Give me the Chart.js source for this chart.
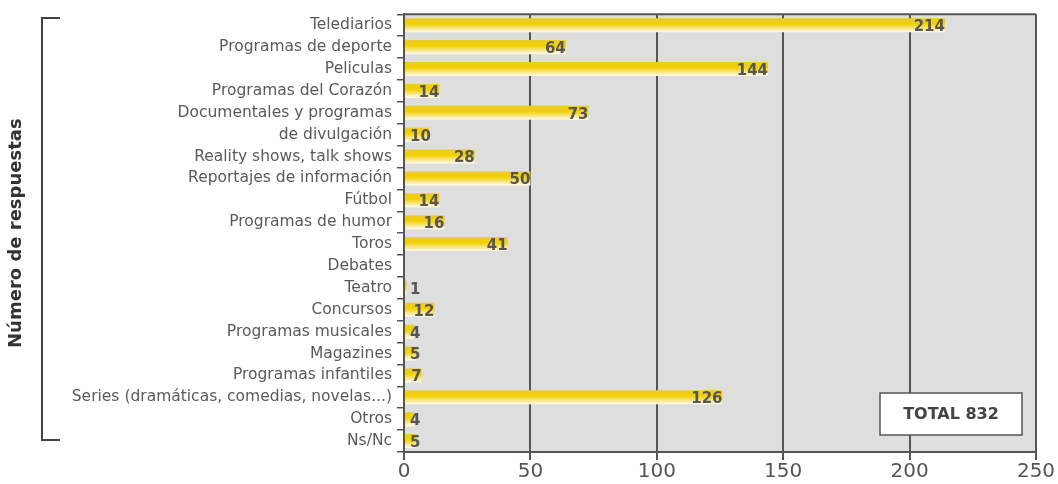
<!DOCTYPE html>
<html>
<head>
<meta charset="utf-8">
<script src="https://cdn.jsdelivr.net/npm/chart.js@4.4.1/dist/chart.umd.min.js"></script>
<style>
  html, body { margin: 0; padding: 0; background: #fff; }
  #wrap { width: 1058px; height: 484px; }
</style>
</head>
<body>
<div id="wrap"><canvas id="tvChart"></canvas></div>
<script>
// ==== Data ====
const categories = [
  "Telediarios", "Programas de deporte", "Peliculas", "Programas del Corazón",
  "Documentales y programas", "de divulgación", "Reality shows, talk shows",
  "Reportajes de información", "Fútbol", "Programas de humor", "Toros",
  "Debates", "Teatro", "Concursos", "Programas musicales", "Magazines",
  "Programas infantiles", "Series (dramáticas, comedias, novelas...)", "Otros", "Ns/Nc"
];
const responses = [214, 64, 144, 14, 73, 10, 28, 50, 14, 16, 41, 0, 1, 12, 4, 5, 7, 126, 4, 5];
const axisTitle = "Número de respuestas";
const totalText = "TOTAL 832";
const xTicks = [0, 50, 100, 150, 200, 250];

const FONT = "'DejaVu Sans', sans-serif";

// yellow bar fill, fading to white at the bottom edge
function barFill(c) {
  const chart = c.chart;
  if (!chart.chartArea || !chart.scales.y) return "#f0cc00";
  const yScale = chart.scales.y;
  const y = yScale.getPixelForValue(c.dataIndex);
  const h = yScale.height / categories.length * 0.64;
  const g = chart.ctx.createLinearGradient(0, y - h / 2, 0, y + h / 2);
  g.addColorStop(0, "#eccb2a");
  g.addColorStop(0.4, "#f2d000");
  g.addColorStop(0.72, "#f7e68a");
  g.addColorStop(1, "#fffcf0");
  return g;
}

// ==== Plugins ====
const decor = {
  id: "decor",
  beforeDraw(chart) {
    const { ctx, chartArea: a } = chart;
    ctx.save();
    ctx.fillStyle = "#dedede";
    ctx.fillRect(a.left, a.top, a.right - a.left, a.bottom - a.top);
    ctx.restore();
  },
  afterDatasetsDraw(chart) {
    const { ctx, chartArea: a } = chart;
    const meta = chart.getDatasetMeta(0);
    ctx.save();
    // value labels
    ctx.font = "bold 15px " + FONT;
    ctx.fillStyle = "#555";
    ctx.textAlign = "right";
    ctx.textBaseline = "middle";
    meta.data.forEach((bar, i) => {
      const v = responses[i];
      if (!v) return;
      const t = String(v);
      const w = ctx.measureText(t).width;
      const x = Math.max(bar.x, a.left + 6 + w);
      ctx.fillText(t, x, bar.y + 2);
    });
    // plot frame (top edge)
    ctx.strokeStyle = "#555";
    ctx.lineWidth = 2;
    ctx.beginPath();
    ctx.moveTo(a.left, a.top);
    ctx.lineTo(a.right, a.top);
    ctx.stroke();
    // bracket next to axis title
    ctx.strokeStyle = "#444";
    ctx.lineWidth = 2;
    ctx.beginPath();
    ctx.moveTo(60, 18);
    ctx.lineTo(42, 18);
    ctx.lineTo(42, 440);
    ctx.lineTo(60, 440);
    ctx.stroke();
    // total box
    const bx = 880, by = 393, bw = 142, bh = 42;
    ctx.fillStyle = "#fff";
    ctx.fillRect(bx, by, bw, bh);
    ctx.strokeStyle = "#555";
    ctx.lineWidth = 1.5;
    ctx.strokeRect(bx, by, bw, bh);
    ctx.fillStyle = "#444";
    ctx.font = "bold 16px " + FONT;
    ctx.textAlign = "center";
    ctx.fillText(totalText, bx + bw / 2, by + bh / 2 + 1);
    ctx.restore();
  }
};

// ==== Chart ====
const ctx = document.getElementById("tvChart").getContext("2d");
const chart = new Chart(ctx, {
  type: "bar",
  data: {
    labels: categories,
    datasets: [{
      data: responses,
      backgroundColor: barFill,
      borderWidth: 0,
      categoryPercentage: 1,
      barPercentage: 0.64
    }]
  },
  options: {
    indexAxis: "y",
    responsive: true,
    maintainAspectRatio: false,
    animation: false,
    layout: { padding: { top: 13, right: 22, left: 0, bottom: 0 } },
    plugins: { legend: { display: false }, tooltip: { enabled: false } },
    scales: {
      x: {
        min: 0,
        max: 250,
        afterBuildTicks: (s) => { s.ticks = xTicks.map(v => ({ value: v })); },
        afterFit: (s) => { s.height = 32; },
        grid: { color: "#555", lineWidth: 2, tickLength: 8 },
        border: { display: true, color: "#555", width: 2 },
        ticks: { color: "#555", font: { family: FONT, size: 20 }, padding: 0 }
      },
      y: {
        afterFit: (s) => { s.width = 404; },
        grid: { drawOnChartArea: false, color: "#555", lineWidth: 1.5, tickLength: 7 },
        border: { display: true, color: "#555", width: 2 },
        ticks: { color: "#5a5a5a", font: { family: FONT, size: 15.5 }, padding: 5, autoSkip: false },
        title: {
          display: true,
          text: axisTitle,
          color: "#333",
          font: { family: FONT, size: 18, weight: "bold" },
          padding: { top: 6, bottom: 0 }
        }
      }
    }
  },
  plugins: [decor]
});
</script>
</body>
</html>
